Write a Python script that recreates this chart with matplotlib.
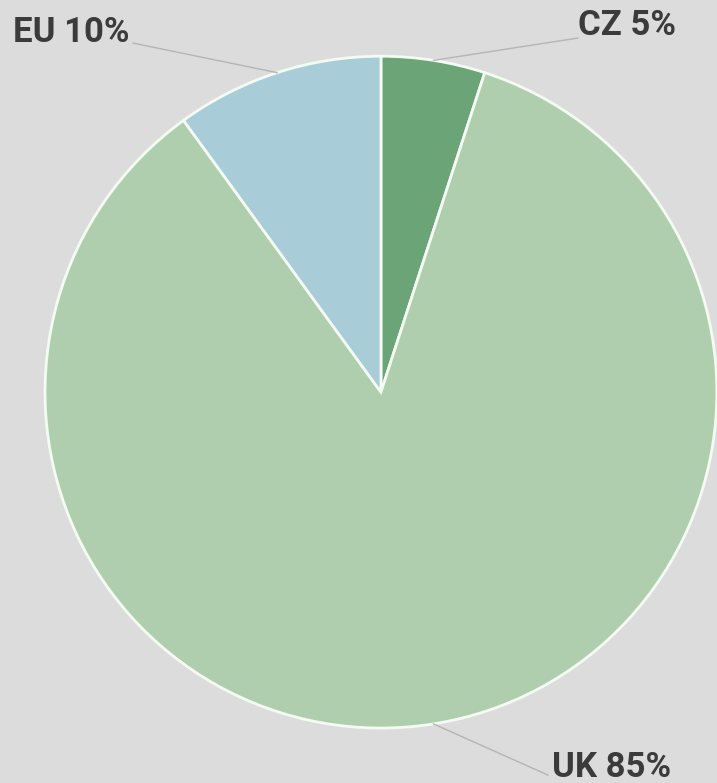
import matplotlib.pyplot as plt
import numpy as np

# Data
labels = ["CZ", "UK", "EU"]
shares = [5, 85, 10]

# Style
colors = ["#6ba577", "#afcead", "#a8ccd8"]
bg = "#dcdcdd"
text_color = "#3b3b3b"

# label text anchors (data coords, baseline), one per slice
text_pos = [(0.586, 1.0625), (0.509, -1.145), (-1.095, 1.042)]
line_end = [(0.586, 1.054), (0.497, -1.140), (-0.738, 1.039)]

fig = plt.figure(figsize=(7.17, 7.83), dpi=100, facecolor=bg)
ax = fig.add_axes([0.0628, 0.0702, 0.937, 0.858])
ax.set_facecolor(bg)

wedges, _ = ax.pie(
    shares,
    colors=colors,
    startangle=90,
    counterclock=False,
    radius=1,
    wedgeprops={"edgecolor": "#f4fbf2", "linewidth": 2},
)

ax.set_xlim(-1, 1)
ax.set_ylim(-1, 1)
ax.set_aspect("equal")
ax.axis("off")

# Leader lines + labels
for w, lab, val, tp, le in zip(wedges, labels, shares, text_pos, line_end):
    mid = np.deg2rad((w.theta1 + w.theta2) / 2)
    x0, y0 = np.cos(mid), np.sin(mid)
    ax.plot([x0, le[0]], [y0, le[1]], color="#b5b5b5", lw=1, clip_on=False)
    ax.text(tp[0], tp[1], f"{lab} {val}%", ha="left", va="baseline",
            fontsize=25, fontweight="bold", color=text_color,
            family="Roboto", clip_on=False)

fig.savefig("out.png", dpi=100, facecolor=bg)
